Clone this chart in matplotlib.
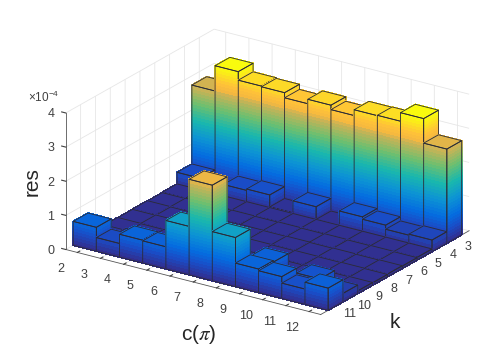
import numpy as np
import matplotlib
matplotlib.use('Agg')
import matplotlib.pyplot as plt
from matplotlib.colors import LinearSegmentedColormap
from mpl_toolkits.mplot3d import proj3d
from mpl_toolkits.mplot3d.art3d import Poly3DCollection

plt.rcParams['font.family'] = ['Liberation Sans', 'DejaVu Sans']
plt.rcParams['mathtext.fontset'] = 'stix'
plt.rcParams['mathtext.default'] = 'regular'

c_vals = [2, 3, 4, 5, 6, 7, 8, 9, 10, 11, 12]
k_vals = [3, 4, 5, 6, 7, 8, 9, 10, 11]
z_vals = [0, 1, 2, 3, 4]

# heights in units of 1e-4, one list per k
res_k3 = [2.73, 3.47, 3.22, 3.20, 3.05, 3.18, 3.05, 3.22, 3.23, 3.48, 2.76]
res_k4 = [0.42, 0.12, 0.41, 0.45, 0.10, 0.45, 0.08, 0.50, 0.43, 0.31, 0.34]
res_k5 = [0.08, 0.08, 0.08, 0.08, 0.08, 0.08, 0.08, 0.08, 0.08, 0.08, 0.08]
res_k6 = [0.07, 0.08, 0.07, 0.08, 0.07, 0.08, 0.07, 0.08, 0.07, 0.08, 0.07]
res_k7 = [0.08, 0.07, 0.08, 0.07, 0.08, 0.07, 0.08, 0.07, 0.08, 0.07, 0.08]
res_k8 = [0.07, 0.08, 0.07, 0.08, 0.07, 0.08, 0.07, 0.08, 0.07, 0.08, 0.07]
res_k9 = [0.08, 0.07, 0.08, 0.07, 0.08, 0.07, 0.08, 0.07, 0.08, 0.07, 0.08]
res_k10 = [0.12, 0.18, 0.22, 0.12, 0.10, 0.10, 0.10, 0.65, 0.10, 0.50, 0.25]
res_k11 = [0.70, 0.40, 0.67, 0.65, 1.42, 2.80, 1.44, 0.69, 0.64, 0.45, 0.65]
res = [res_k3, res_k4, res_k5, res_k6, res_k7, res_k8, res_k9, res_k10, res_k11]

parula = LinearSegmentedColormap.from_list('parula', [
    (0.00, (0.208, 0.166, 0.529)),
    (0.12, (0.10, 0.30, 0.78)),
    (0.22, (0.017, 0.427, 0.879)),
    (0.36, (0.05, 0.58, 0.83)),
    (0.50, (0.10, 0.72, 0.68)),
    (0.64, (0.42, 0.75, 0.44)),
    (0.78, (0.80, 0.70, 0.33)),
    (0.81, (0.96, 0.72, 0.25)),
    (0.87, (1.00, 0.76, 0.22)),
    (0.93, (0.99, 0.87, 0.14)),
    (1.00, (0.976, 0.983, 0.054)),
])
zmax = max(max(r) for r in res)


def side_slices(p0, p1, h, n):
    zs = np.linspace(0, h, n + 1)
    polys, cols = [], []
    for a, b in zip(zs[:-1], zs[1:]):
        polys.append([(p0[0], p0[1], a), (p1[0], p1[1], a), (p1[0], p1[1], b), (p0[0], p0[1], b)])
        cols.append(parula((a + b) / 2 / zmax))
    return polys, cols


def draw_bar(ax, c, k, h, order):
    x0, x1 = c - 0.5, c + 0.5
    y0, y1 = k - 0.5, k + 0.5
    n = max(2, int(h / zmax * 40))
    front, fc = side_slices((x0, y1), (x1, y1), h, n)
    right, rc = side_slices((x1, y1), (x1, y0), h, n)
    top = [[(x0, y0, h), (x1, y0, h), (x1, y1, h), (x0, y1, h)]]
    cols = fc + rc + [parula(h / zmax)]
    fill = Poly3DCollection(front + right + top, facecolors=cols, edgecolors=cols,
                            linewidths=0.5, antialiased=False)
    fill.set_zorder(order)
    ax.add_collection3d(fill, autolim=False)
    outline = [
        [(x0, y1, 0), (x1, y1, 0), (x1, y1, h), (x0, y1, h)],
        [(x1, y1, 0), (x1, y0, 0), (x1, y0, h), (x1, y1, h)],
        top[0],
    ]
    clear = [(0, 0, 0, 0)] * 3
    edges = Poly3DCollection(outline, facecolors=clear, edgecolors=['#2b2b35'] * 3, linewidths=0.6)
    edges.set_zorder(order + 0.5)
    ax.add_collection3d(edges, autolim=False)


def tick_text(ax, x, y, z, s):
    # plain 2d text at the projected point of (x, y, z)
    px, py, _ = proj3d.proj_transform(x, y, z, ax.get_proj())
    ax.text2D(px, py, s, transform=ax.transData, fontsize=9, color='#404040',
              ha='center', va='center', zorder=500)


fig = plt.figure(figsize=(4.91, 3.54), dpi=100)
ax = fig.add_axes([-0.048, -0.153, 1.16, 1.3], projection='3d', proj_type='ortho')
ax.computed_zorder = False
ax.view_init(elev=22.3, azim=-56.1)
ax.set_box_aspect((306, 265, 147), zoom=0.912)
ax.set_xlim(1.5, 12.5)
ax.set_ylim(12.0, 2.0)
ax.set_zlim(0, 4)

order = 10
for i, k in enumerate(k_vals):
    for j, c in enumerate(c_vals):
        draw_bar(ax, c, k, res[i][j], order)
        order += 1

ax.set_xticks(c_vals)
ax.set_yticks(k_vals)
ax.set_zticks(z_vals)
ax.set_xticklabels([])
ax.set_yticklabels([])
ax.set_zticklabels([])
ax.tick_params(colors='#404040')
for axis in (ax.xaxis, ax.yaxis, ax.zaxis):
    axis.set_pane_color((1, 1, 1, 0))
    axis.pane.set_edgecolor((1, 1, 1, 0))
    axis.line.set_color('#555555')
    axis.line.set_linewidth(0.6)
    axis._axinfo['grid'].update(color='#e6e6e6', linewidth=0.6)
    axis._axinfo['tick'].update(inward_factor=0.0, outward_factor=0.2)
ax.zaxis.set_ticks_position('upper')

# tick labels placed by hand, mplot3d puts them too close to the axes
for c in c_vals:
    tick_text(ax, c, 13.12, -0.2, str(c))
for k in k_vals:
    tick_text(ax, 13.09, k, -0.13, str(k))
for z in z_vals:
    tick_text(ax, 0.85, 12, z - 0.15, str(z))

fig.text(0.065, 0.488, 'res', rotation=90, fontsize=15, color='#262626', ha='center', va='center')
fig.text(0.405, 0.056, 'c($\\mathit{\\pi}$)', fontsize=15, color='#262626', ha='center', va='center')
fig.text(0.804, 0.09, 'k', fontsize=15, color='#262626', ha='center', va='center')
fig.text(0.058, 0.725, '$\\times$10$^{-4}$', fontsize=8.5, color='#404040', ha='left', va='center')

fig.savefig('out.png', dpi=100)
